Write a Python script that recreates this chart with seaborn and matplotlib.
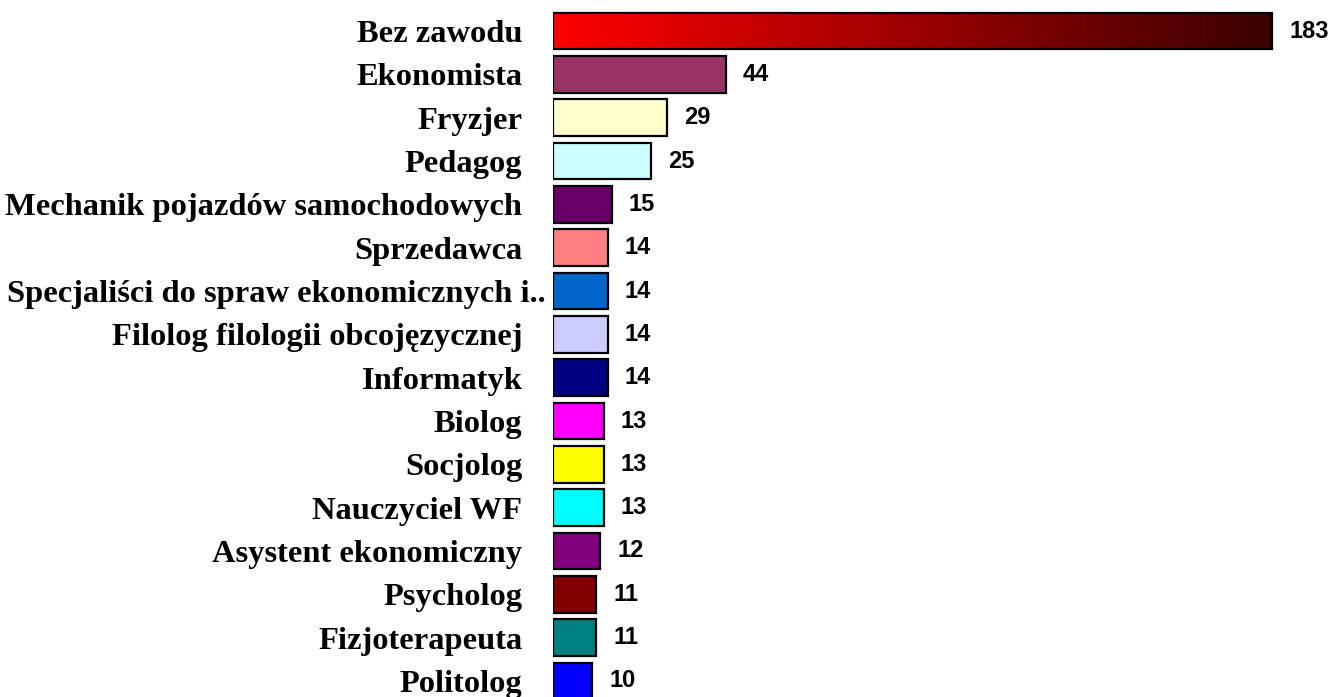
import numpy as np
import pandas as pd
import matplotlib
matplotlib.use("Agg")
import matplotlib.pyplot as plt
import seaborn as sns
from matplotlib.colors import LinearSegmentedColormap

# data
zawody = [
    "Bez zawodu", "Ekonomista", "Fryzjer", "Pedagog",
    "Mechanik pojazdów samochodowych", "Sprzedawca",
    "Specjaliści do spraw ekonomicznych i..", "Filolog filologii obcojęzycznej",
    "Informatyk", "Biolog", "Socjolog", "Nauczyciel WF",
    "Asystent ekonomiczny", "Psycholog", "Fizjoterapeuta", "Politolog",
]
liczba = [183, 44, 29, 25, 15, 14, 14, 14, 14, 13, 13, 13, 12, 11, 11, 10]
kolory = [
    "#FF0000", "#993366", "#FFFFCC", "#CCFFFF", "#660066", "#FF8080",
    "#0066CC", "#CCCCFF", "#000080", "#FF00FF", "#FFFF00", "#00FFFF",
    "#800080", "#800000", "#008080", "#0000FF",
]

df = pd.DataFrame({"Zawod": zawody, "Liczba": liczba})

sns.set_style("white")
fig = plt.figure(figsize=(13.33, 6.97), dpi=100)
# axes: left edge at bar start, top a little below figure top
ax = fig.add_axes([553 / 1333, 0, 780 / 1333, (697 - 9.4) / 697])

sns.barplot(data=df, y="Zawod", x="Liczba", hue="Zawod", palette=kolory,
            saturation=1, legend=False, orient="h", width=0.85,
            edgecolor="black", linewidth=1.6, ax=ax)

# gradient for the first bar (red -> dark maroon)
first = ax.patches[0]
x0, y0 = first.get_x(), first.get_y()
w, h = first.get_width(), first.get_height()
cmap = LinearSegmentedColormap.from_list("grad", ["#FF0000", "#3A0000"])
grad = np.linspace(0, 1, 256).reshape(1, -1)
im = ax.imshow(grad, cmap=cmap, aspect="auto",
               extent=[x0, x0 + w, y0 + h, y0], zorder=first.get_zorder())
im.set_clip_path(first)
first.set_facecolor("none")
first.set_zorder(im.get_zorder() + 0.1)
ax.set_xlim(0, 780 / 3.93)
ax.set_ylim(15.37, -0.5)

for i, v in enumerate(liczba):
    ax.text(v + 4.3, i, str(v), va="center", ha="left", color="black",
            fontsize=17, fontweight="bold", family="Liberation Sans")

# the long truncated label runs right up to its bar, draw it separately
dlugi = 6
etykiety = [z if i != dlugi else "" for i, z in enumerate(zawody)]
ax.set_yticks(range(len(zawody)), labels=etykiety)
ax.text(-0.009, dlugi, zawody[dlugi], transform=ax.get_yaxis_transform(),
        ha="right", va="center_baseline", fontsize=23.4, fontweight="bold",
        family="Liberation Serif", color="black")

ax.set_xlabel("")
ax.set_ylabel("")
ax.set_xticks([])
ax.tick_params(axis="y", length=0, pad=22)
for lab in ax.get_yticklabels():
    lab.set_family("Liberation Serif")
    lab.set_fontweight("bold")
    lab.set_fontsize(23.4)
    lab.set_color("black")
for s in ax.spines.values():
    s.set_visible(False)

fig.savefig("out.png", dpi=100)
